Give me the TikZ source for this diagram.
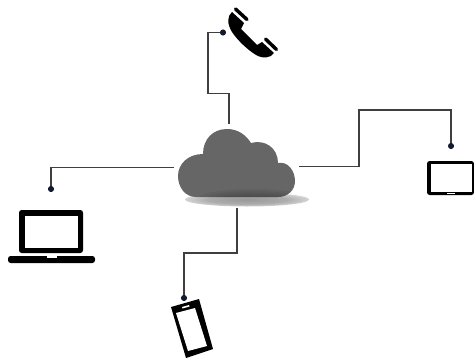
\documentclass[tikz,border=0pt]{standalone}
\usetikzlibrary{shadings}
\definecolor{wire}{HTML}{3F3F3F}
\definecolor{dotc}{HTML}{101A30}
\definecolor{cloudc}{HTML}{666666}
\pgfdeclareradialshading{softshadow}{\pgfpoint{0bp}{0bp}}{color(0bp)=(black!40);color(16bp)=(black!32);color(35bp)=(white);color(50bp)=(white)}
\tikzset{
  wire/.style={draw=wire,line width=1.1pt,line join=miter},
  enddot/.style={circle,fill=dotc,inner sep=0pt,minimum size=4.6pt},
  glyph/.style={fill=black,draw=none},
  screen/.style={fill=white,draw=none}
}
\begin{document}
\begin{tikzpicture}[x=0.75pt,y=-0.75pt]
\useasboundingbox (0,0) rectangle (474,360);
% shadow beneath cloud
\shade[shading=softshadow] (247,199.5) ellipse [x radius=62,y radius=7];
% cloud
\path[fill=cloudc] (196,197)
  .. controls (185,197) and (178,187) .. (178,176)
  .. controls (178,164) and (188,154) .. (203,154)
  .. controls (203,139) and (213,129) .. (227,129)
  .. controls (238,129) and (246,135) .. (251,143)
  .. controls (265,139) and (278,148) .. (278,163)
  .. controls (288,161) and (295,171) .. (295,181)
  .. controls (295,190) and (288,197) .. (278,197) -- cycle;
\begin{scope}
  \clip (196,197) -- (178,197) -- (178,185) -- (295,185) -- (295,181)
    .. controls (295,190) and (288,197) .. (278,197) -- cycle;
  \foreach \r/\s in {30/3,38/5,46/7,54/9}
    \fill[black,opacity=0.06] (253,198) ellipse [x radius=\r,y radius=\s];
\end{scope}
\node[inner sep=0pt,minimum size=0pt] (cloud) at (236,167) {};
\coordinate (ctop) at (229,124);
\coordinate (cleft) at (174,167.5);
\coordinate (cright) at (299,166.5);
\coordinate (cbottom) at (237,208);
% end dots
\node[enddot] (dtop) at (223,32.5) {};
\node[enddot] (dleft) at (51,189) {};
\node[enddot] (dbottom) at (184,298) {};
\node[enddot] (dright) at (451,146) {};
% connectors
\draw[wire] (ctop) |- (208,93.5) |- (dtop);
\draw[wire] (cleft) -| (dleft);
\draw[wire] (cbottom) |- (184,253) -- (dbottom);
\draw[wire] (cright) -| (359,110) -| (dright);
% handset
\path[glyph] (232,12) .. controls (227,16) and (227,24) .. (232,32)
  .. controls (238,41) and (248,50) .. (256,55)
  .. controls (263,59) and (271,58) .. (274,53)
  -- (262,42) -- (257,45) -- (241,29) -- (244,23) -- cycle;
\draw[black,line width=2.6pt,line cap=round] (235.5,9) -- (247,19.5);
\draw[black,line width=2.6pt,line cap=round] (265.5,39) -- (276.5,49.5);
% laptop
\path[glyph,rounded corners=2pt] (19,253) -- (19,210) -- (83,210) -- (83,253) -- cycle;
\path[screen] (25,216) rectangle (78,248);
\path[glyph,rounded corners=2pt] (8,256) rectangle (95,263);
\path[screen] (47,256) rectangle (57,258);
% phone
\path[glyph] (171,307) -- (199,299) -- (213,349) -- (186,358) -- cycle;
\path[screen] (176,313) -- (195,308) -- (207,346) -- (188,351) -- cycle;
\path[screen] (182,307) -- (189,305) -- (189.5,306.5) -- (182.5,308.5) -- cycle;
% tablet
\path[glyph,rounded corners=2pt] (427,161) rectangle (474,195);
\path[screen] (431,164) rectangle (472,192);
\path[screen] (447,192.8) rectangle (455,194);
\end{tikzpicture}
\end{document}
